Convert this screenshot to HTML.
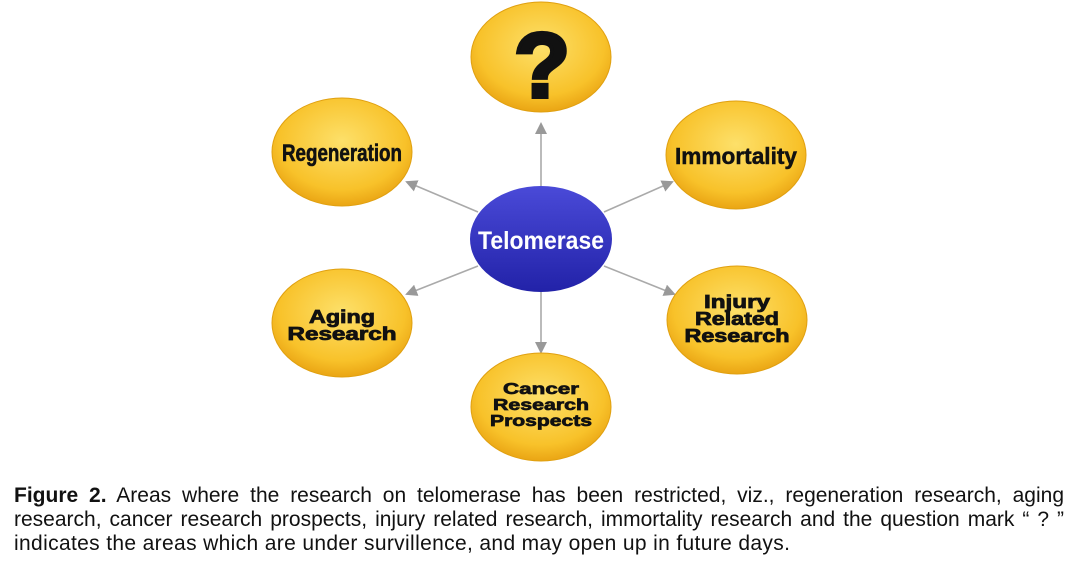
<!DOCTYPE html>
<html><head><meta charset="utf-8"><style>
body{margin:0;width:1076px;height:567px;background:#fff;overflow:hidden;position:relative}
svg{position:absolute;left:0;top:0}
.cap{position:absolute;left:14px;width:1050px;top:484px;font-family:"Liberation Sans",sans-serif;font-size:21px;line-height:24px;color:#111}
.cap div{text-align:justify;text-align-last:justify;white-space:nowrap}
.cap div.l{text-align-last:left;letter-spacing:0.35px}
</style></head><body>
<svg width="1076" height="480" viewBox="0 0 1076 480">
<defs>
<radialGradient id="y" cx="50%" cy="40%" r="60%">
<stop offset="0" stop-color="#fde06a"/><stop offset="0.75" stop-color="#f8c22a"/><stop offset="1" stop-color="#eaa514"/>
</radialGradient>
<linearGradient id="b" x1="0" y1="0" x2="0" y2="1">
<stop offset="0" stop-color="#4a4ad8"/><stop offset="1" stop-color="#2222a8"/>
</linearGradient>
<marker id="a" markerWidth="12" markerHeight="12" refX="10" refY="6" orient="auto" markerUnits="userSpaceOnUse">
<path d="M0,0 L12,6 L0,12 Z" fill="#999"/></marker>
</defs>
<g stroke="#aaa" stroke-width="1.6" marker-end="url(#a)">
<line x1="541" y1="186" x2="541" y2="124"/>
<line x1="478" y1="212" x2="407" y2="182"/>
<line x1="604" y1="212" x2="672" y2="182"/>
<line x1="478" y1="266" x2="407" y2="294"/>
<line x1="604" y1="266" x2="674" y2="294"/>
<line x1="541" y1="292" x2="541" y2="352"/>
</g>
<g fill="url(#y)" stroke="#e0a010" stroke-width="1">
<ellipse cx="541" cy="57" rx="70" ry="55"/>
<ellipse cx="342" cy="152" rx="70" ry="54"/>
<ellipse cx="736" cy="155" rx="70" ry="54"/>
<ellipse cx="342" cy="323" rx="70" ry="54"/>
<ellipse cx="737" cy="320" rx="70" ry="54"/>
<ellipse cx="541" cy="407" rx="70" ry="54"/>
</g>
<ellipse cx="541" cy="239" rx="71" ry="53" fill="url(#b)"/>
<g font-family="Liberation Sans,sans-serif" font-weight="bold" text-anchor="middle" fill="#111" stroke="#111">
<text x="542" y="97" font-size="92" stroke-width="4">?</text>
<text x="342" y="161" font-size="24" stroke-width="0.6" textLength="120" lengthAdjust="spacingAndGlyphs">Regeneration</text>
<text x="736" y="164" font-size="23" stroke-width="0.5" textLength="122" lengthAdjust="spacingAndGlyphs">Immortality</text>
<text x="541" y="249" font-size="25" fill="#fff" stroke="none" textLength="126" lengthAdjust="spacingAndGlyphs">Telomerase</text>
<g font-size="18" stroke-width="0.8">
<text x="342" y="323" textLength="66" lengthAdjust="spacingAndGlyphs">Aging</text>
<text x="342" y="340" textLength="109" lengthAdjust="spacingAndGlyphs">Research</text>
<text x="737" y="308" textLength="66" lengthAdjust="spacingAndGlyphs">Injury</text>
<text x="737" y="325" textLength="84" lengthAdjust="spacingAndGlyphs">Related</text>
<text x="737" y="342" textLength="105" lengthAdjust="spacingAndGlyphs">Research</text>
</g>
<g font-size="16" stroke-width="0.7">
<text x="541" y="394" textLength="76" lengthAdjust="spacingAndGlyphs">Cancer</text>
<text x="541" y="410" textLength="96" lengthAdjust="spacingAndGlyphs">Research</text>
<text x="541" y="426" textLength="102" lengthAdjust="spacingAndGlyphs">Prospects</text>
</g>
</g>
</svg>
<div class="cap">
<div><b>Figure 2.</b> Areas where the research on telomerase has been restricted, viz., regeneration research, aging</div>
<div>research, cancer research prospects, injury related research, immortality research and the question mark “ ? ”</div>
<div class="l">indicates the areas which are under survillence, and may open up in future days.</div>
</div>
</body></html>
